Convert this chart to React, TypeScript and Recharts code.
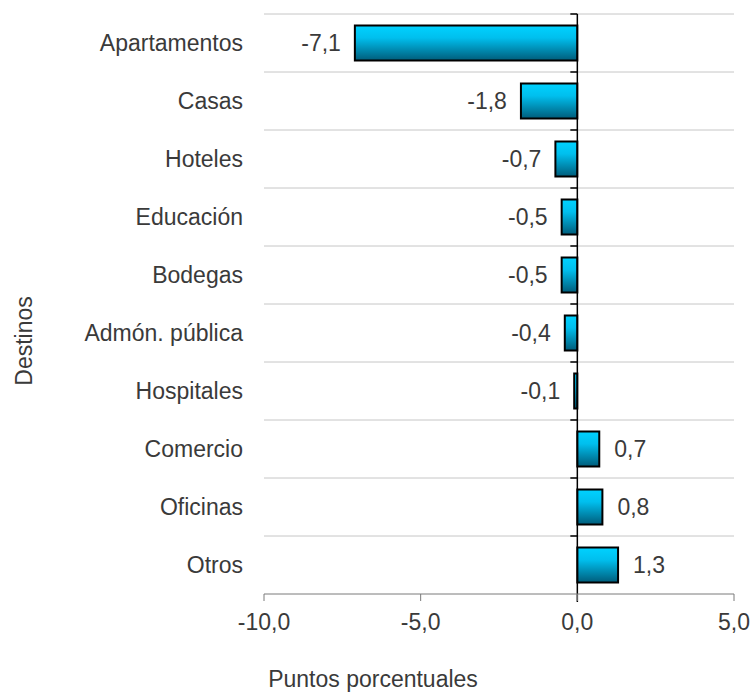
import React from 'react';
import {
  BarChart,
  Bar,
  XAxis,
  YAxis,
  CartesianGrid,
  ReferenceLine,
  LabelList,
} from 'recharts';

const categories = [
  'Apartamentos',
  'Casas',
  'Hoteles',
  'Educación',
  'Bodegas',
  'Admón. pública',
  'Hospitales',
  'Comercio',
  'Oficinas',
  'Otros',
];
const values = [-7.1, -1.8, -0.7, -0.5, -0.5, -0.4, -0.1, 0.7, 0.8, 1.3];
const xTicks = [-10, -5, 0, 5];

const data = categories.map((name, i) => ({ name, value: values[i] }));

const TEXT = '#3a3a3a';
const FONT = '"Liberation Sans", Arial, sans-serif';
const FS = 23;

const fmt = (v: number) => v.toFixed(1).replace('.', ',');

// line at zero with small ticks on the category boundaries
const ZeroLine = (props: any) => {
  const { x1, y1, y2 } = props;
  const top = Math.min(y1, y2);
  const bottom = Math.max(y1, y2);
  const step = (bottom - top) / categories.length;
  return (
    <g>
      {categories.map((_, i) => (
        <line key={i} x1={x1 - 7} x2={x1} y1={top + i * step} y2={top + i * step} stroke="#000" strokeWidth={1.5} />
      ))}
      <line x1={x1} x2={x1} y1={top} y2={bottom + 8} stroke="#000" strokeWidth={1.5} />
    </g>
  );
};

const ValueLabel = (props: any) => {
  const { x, y, width, height, value } = props;
  const left = Math.min(x, x + width);
  const right = Math.max(x, x + width);
  const neg = value < 0;
  return (
    <text
      x={neg ? left - 14 : right + 15}
      y={y + height / 2}
      textAnchor={neg ? 'end' : 'start'}
      dominantBaseline="central"
      fill={TEXT}
      fontSize={FS}
      fontFamily={FONT}
    >
      {fmt(value)}
    </text>
  );
};

export default function App() {
  return (
    <div>
      {/* chart covers the whole window, so drop the default body margin */}
      <style>{'body { margin: 0; }'}</style>
      <BarChart
        width={752}
        height={693}
        data={data}
        layout="vertical"
        margin={{ top: 14, right: 18, bottom: 39, left: 0 }}
        barCategoryGap="20%"
        style={{ fontFamily: FONT }}
      >
        <defs>
          <linearGradient id="barFill" x1="0" y1="0" x2="0" y2="1">
            <stop offset="0%" stopColor="#00d2ff" />
            <stop offset="35%" stopColor="#00bfee" />
            <stop offset="100%" stopColor="#005c7a" />
          </linearGradient>
        </defs>
        <CartesianGrid
          vertical={false}
          stroke="#c6c6c6"
          horizontalCoordinatesGenerator={({ offset }: any) =>
            categories.map((_, i) => offset.top + (i * offset.height) / categories.length)
          }
        />
        <XAxis
          type="number"
          domain={[-10, 5]}
          ticks={xTicks}
          tickFormatter={fmt}
          height={60}
          stroke="#7a7a7a"
          tickSize={7}
          tickMargin={13}
          tick={{ fill: TEXT, fontSize: FS }}
          label={{
            content: () => (
              <text x={373} y={687} textAnchor="middle" fill={TEXT} fontSize={FS} fontFamily={FONT}>
                Puntos porcentuales
              </text>
            ),
          }}
        />
        <YAxis
          type="category"
          dataKey="name"
          width={264}
          axisLine={false}
          tickLine={false}
          tickMargin={15}
          tick={{ fill: TEXT, fontSize: FS }}
          label={{
            content: () => (
              <text
                x={32}
                y={341}
                transform="rotate(-90 32 341)"
                textAnchor="middle"
                fill={TEXT}
                fontSize={FS}
                fontFamily={FONT}
              >
                Destinos
              </text>
            ),
          }}
        />
        <Bar dataKey="value" fill="url(#barFill)" stroke="#000" strokeWidth={2} isAnimationActive={false}>
          <LabelList dataKey="value" content={ValueLabel} />
        </Bar>
        <ReferenceLine x={0} shape={ZeroLine} />
      </BarChart>
    </div>
  );
}
